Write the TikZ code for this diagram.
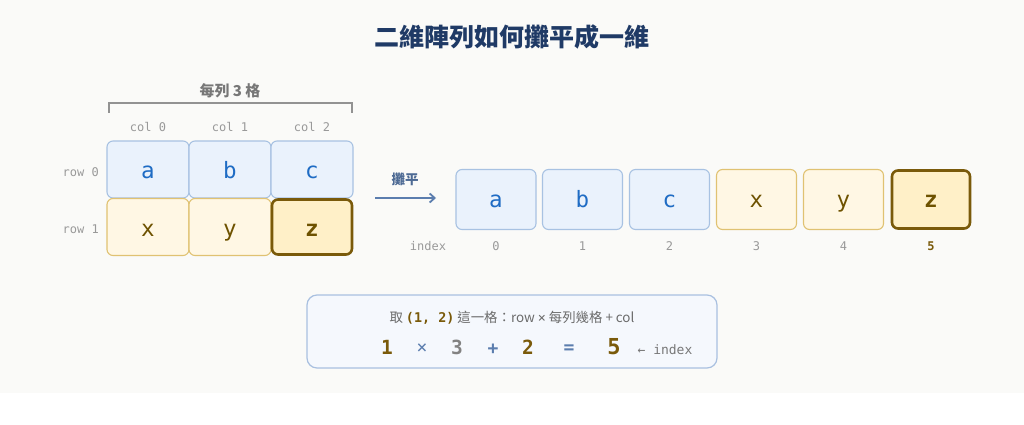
\documentclass[tikz,border=0pt]{standalone}
\usepackage{fontspec}
\setmainfont{Noto Sans CJK TC}
\newfontfamily\cjk{Noto Sans CJK TC}
\newfontfamily\mono{DejaVu Sans Mono}
\usetikzlibrary{arrows.meta}
\definecolor{bgc}{HTML}{FAFAF8}
\definecolor{titlec}{HTML}{1F3A66}
\definecolor{bfill}{HTML}{EAF2FC}
\definecolor{bline}{HTML}{A8C2E2}
\definecolor{btext}{HTML}{1F6CC4}
\definecolor{yfill}{HTML}{FFF7E4}
\definecolor{yline}{HTML}{E0C272}
\definecolor{ytext}{HTML}{6E5200}
\definecolor{zfill}{HTML}{FFF0C8}
\definecolor{zline}{HTML}{7A5A0A}
\definecolor{graytext}{HTML}{999999}
\definecolor{darkgray}{HTML}{777777}
\definecolor{arrowc}{HTML}{5B7DAE}
\definecolor{boxfill}{HTML}{F5F8FD}
\definecolor{boxline}{HTML}{A9C0E0}
\tikzset{
  cellb/.style={draw=bline, fill=bfill, line width=1.1pt, rounded corners=6pt,
    minimum width=82pt, minimum height=57pt, inner sep=0pt, text=btext,
    text height=22.5pt, text depth=4.5pt, font=\mono\fontsize{22.5}{22.5}\selectfont},
  celly/.style={draw=yline, fill=yfill, line width=1.1pt, rounded corners=6pt,
    minimum width=82pt, minimum height=57pt, inner sep=0pt, text=ytext,
    text height=22.5pt, text depth=4.5pt, font=\mono\fontsize{22.5}{22.5}\selectfont},
  cellz/.style={draw=zline, fill=zfill, line width=2.6pt, rounded corners=6pt,
    minimum width=80pt, minimum height=55pt, inner sep=0pt, text=ytext,
    text height=22.5pt, text depth=4.5pt, font=\mono\bfseries\fontsize{22.5}{22.5}\selectfont},
  rcellb/.style={cellb, minimum width=80pt, minimum height=60pt, text height=20.5pt},
  rcelly/.style={celly, minimum width=80pt, minimum height=60pt, text height=20.5pt},
  rcellz/.style={cellz, minimum width=78pt, minimum height=58pt, text height=20.5pt},
  lbl/.style={text=graytext, font=\mono\fontsize{12}{12}\selectfont, inner sep=0pt},
  idx/.style={text=graytext, font=\mono\fontsize{12}{12}\selectfont, inner sep=0pt},
  eqn/.style={font=\mono\bfseries\fontsize{19.5}{20}\selectfont, inner sep=0pt},
  op/.style={text=arrowc, font=\mono\fontsize{18}{18}\selectfont, inner sep=0pt},
}
\begin{document}
\begin{tikzpicture}[x=1pt,y=-1pt]
\useasboundingbox (0,0) rectangle (1024,425);
\fill[white] (0,0) rectangle (1024,425);
\fill[bgc] (0,0) rectangle (1024,393);

% title
\node[text=titlec, font=\cjk\bfseries\fontsize{25}{25}\selectfont, inner sep=0pt] (title) at (512,37) {二維陣列如何攤平成一維};

% left grid
\node[cellb] (g00) at (148,169.5) {a};
\node[cellb] (g01) at (230,169.5) {b};
\node[cellb] (g02) at (312,169.5) {c};
\node[celly] (g10) at (148,227) {x};
\node[celly] (g11) at (230,227) {y};
\node[cellz] (g12) at (312,227) {z};

% labels
\node[lbl] (c0) at (148,127) {col 0};
\node[lbl] (c1) at (230,127) {col 1};
\node[lbl] (c2) at (312,127) {col 2};
\node[lbl, anchor=east] (r0) at (99,172) {row 0};
\node[lbl, anchor=east] (r1) at (99,229) {row 1};

% bracket
\coordinate (bl) at (109,113);
\coordinate (br) at (352,113);
\draw[darkgray!80, line width=1.2pt] (bl) -- (109,103) -- (352,103) -- (br);
\node[text=darkgray, font=\cjk\bfseries\fontsize{15}{15}\selectfont, inner sep=0pt] (per) at (230,91) {每列 3 格};

% arrow
\coordinate (as) at (375,198);
\coordinate (ae) at (436,198);
\draw[arrowc, line width=1.8pt, -{Straight Barb[length=5pt,width=9pt]}] (as) -- (ae);
\node[text=arrowc!85!black, font=\cjk\bfseries\fontsize{13.5}{14}\selectfont, inner sep=0pt] (flat) at (405,179) {攤平};

% right row
\node[rcellb] (f0) at (496,199.5) {a};
\node[rcellb] (f1) at (582.5,199.5) {b};
\node[rcellb] (f2) at (669.5,199.5) {c};
\node[rcelly] (f3) at (756.5,199.5) {x};
\node[rcelly] (f4) at (843.5,199.5) {y};
\node[rcellz] (f5) at (931,199.5) {z};

\node[idx] (ix) at (428,246) {index};
\node[idx] (i0) at (496,246) {0};
\node[idx] (i1) at (582.5,246) {1};
\node[idx] (i2) at (669.5,246) {2};
\node[idx] (i3) at (756.5,246) {3};
\node[idx] (i4) at (843.5,246) {4};
\node[idx, text=zline, font=\mono\bfseries\fontsize{12}{12}\selectfont] (i5) at (931,246) {5};

% bottom box
\node[draw=boxline, fill=boxfill, line width=1.2pt, rounded corners=10pt,
  minimum width=410pt, minimum height=73pt, inner sep=0pt] (box) at (512,331.5) {};
\node[inner sep=0pt, text=darkgray!90!black, font=\cjk\fontsize{13.4}{14}\selectfont] (l1) at (512,318)
  {取 {\mono\bfseries\color{zline}(1, 2)} 這一格：row {\mono ×} 每列幾格 + col};
\node[eqn, text=zline] (n1) at (387,347.5) {1};
\node[op] (x1) at (422,349) {×};
\node[eqn, text=graytext!85!black] (n3) at (457,347.5) {3};
\node[op, font=\mono\bfseries\fontsize{18}{18}\selectfont] (p1) at (493,349) {+};
\node[eqn, text=zline] (n2) at (528,347.5) {2};
\node[op, font=\mono\bfseries\fontsize{18}{18}\selectfont] (e1) at (569,349) {=};
\node[eqn, text=zline, font=\mono\bfseries\fontsize{22}{22}\selectfont] (n5) at (614,347) {5};
\node[text=darkgray, font=\mono\fontsize{13}{13}\selectfont, inner sep=0pt] (ai) at (665,350) {← index};
\end{tikzpicture}
\end{document}
